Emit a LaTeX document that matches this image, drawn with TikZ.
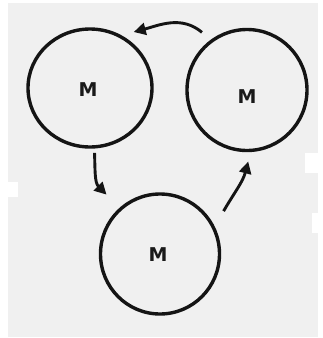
\documentclass[tikz,border=0pt]{standalone}
\usepackage{fontspec}
\newfontfamily\handfont{DejaVu Sans}
\usetikzlibrary{shapes.geometric,calc,arrows.meta}
\begin{document}
\begin{tikzpicture}[x=1pt,y=1pt,
  cell/.style={ellipse,draw=black!92,line width=3.4pt,inner sep=0pt},
  lbl/.style={font=\handfont\bfseries\fontsize{19}{19}\selectfont,text=black!90},
  flow/.style={line width=2.9pt,black!92,-{Triangle[length=12pt,width=12pt]}}]
\useasboundingbox (0,0) rectangle (322,-338);
\fill[white] (0,0) rectangle (322,-338);
\fill[black!6] (8,-3) rectangle (318,-337);
\fill[white] (305,-153) rectangle (322,-173);
\fill[white] (312,-213) rectangle (322,-233);
\fill[white] (8,-182) rectangle (18,-197);
\node[cell,minimum width=124pt,minimum height=118pt] (c1) at (90,-88) {};
\node[cell,minimum width=120pt,minimum height=121pt] (c2) at (247,-90) {};
\node[cell,minimum width=119pt,minimum height=120pt] (c3) at (160,-254) {};
\node[lbl] (m1) at (88,-90) {M};
\node[lbl] (m2) at (247,-97) {M};
\node[lbl] (m3) at (158,-255) {M};
\coordinate (a1s) at ($(c2)!1.18!(c2.128)$);
\coordinate (a1e) at ($(c1)!1.15!(c1.52)$);
\coordinate (a2s) at ($(c1)!1.07!(c1.-86)$);
\coordinate (a2e) at ($(c3)!1.3!(c3.132)$);
\coordinate (a3s) at ($(c3)!1.25!(c3.34)$);
\coordinate (a3e) at ($(c2)!1.15!(c2.-89)$);
\draw[flow] (a1s) to[out=140,in=15] (a1e);
\draw[flow] (a2s) to[out=-88,in=135] (a2e);
\draw[flow] (a3s) to[out=60,in=-105] (a3e);
\end{tikzpicture}
\end{document}
